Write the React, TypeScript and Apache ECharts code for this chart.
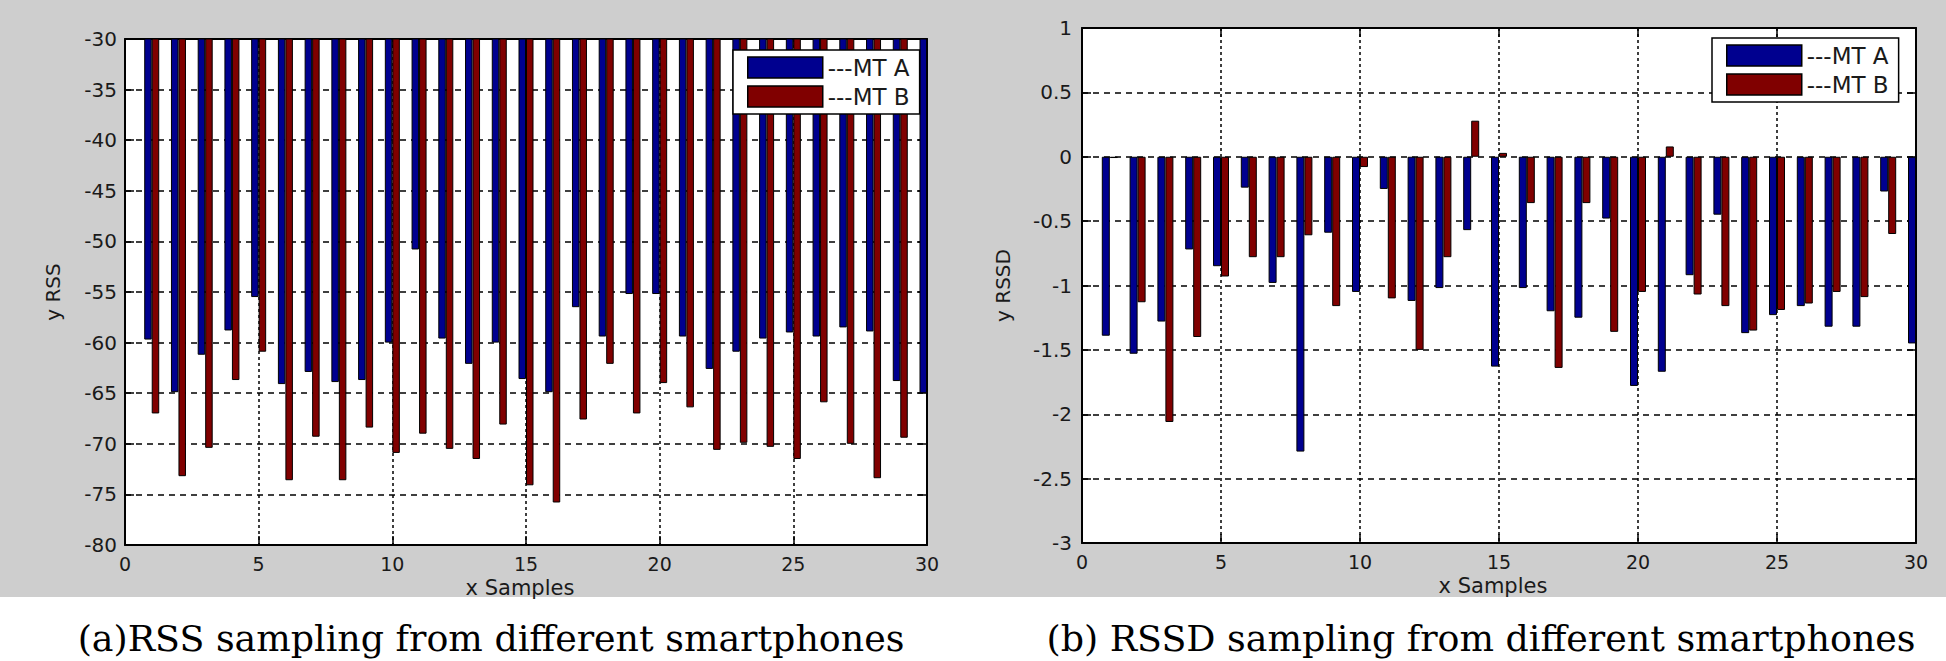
import React, { useEffect, useRef } from "react";
import * as echarts from "echarts";

// ---------- data ----------
const samples = [1, 2, 3, 4, 5, 6, 7, 8, 9, 10, 11, 12, 13, 14, 15, 16, 17, 18, 19, 20, 21, 22, 23, 24, 25, 26, 27, 28, 29, 30];

const seriesNames = ["---MT A", "---MT B"];

// (a) RSS
const rssMtA = [-59.7, -64.9, -61.2, -58.8, -55.5, -64.1, -62.9, -63.9, -63.7, -60.0, -50.8, -59.6, -62.1, -60.0, -63.6, -64.9, -56.5, -59.4, -55.2, -55.2, -59.4, -62.6, -60.9, -59.6, -59.0, -59.4, -58.5, -58.9, -63.8, -65.0];
const rssMtB = [-67.0, -73.2, -70.4, -63.7, -60.9, -73.6, -69.3, -73.6, -68.4, -70.9, -69.0, -70.5, -71.5, -68.1, -74.1, -75.8, -67.6, -62.1, -67.0, -64.0, -66.4, -70.6, -69.9, -70.3, -71.5, -65.9, -70.0, -73.4, -69.4, null];

// (b) RSSD
const rssdMtA = [-1.39, -1.53, -1.28, -0.72, -0.85, -0.24, -0.98, -2.29, -0.59, -1.05, -0.25, -1.12, -1.02, -0.57, -1.63, -1.02, -1.2, -1.25, -0.48, -1.78, -1.67, -0.92, -0.45, -1.37, -1.23, -1.16, -1.32, -1.32, -0.27, -1.45];
const rssdMtB = [-0.01, -1.13, -2.06, -1.4, -0.93, -0.78, -0.78, -0.61, -1.16, -0.08, -1.1, -1.5, -0.78, 0.28, 0.03, -0.36, -1.64, -0.36, -1.36, -1.05, 0.08, -1.07, -1.16, -1.35, -1.19, -1.14, -1.05, -1.09, -0.6, null];

const captionA = "(a)RSS sampling from different smartphones";
const captionB = "(b) RSSD sampling from different smartphones";

// ---------- styling ----------
const SANS = "'DejaVu Sans', sans-serif";
const SERIF = "'DejaVu Serif', serif";
const LABEL = "#1a1a1a";
const BLUE = "#00008F";
const RED = "#800000";

function xAxesFor(gridIndex: number, nameGap: number) {
  return [
    {
      type: "value",
      gridIndex,
      min: 0,
      max: 30,
      interval: 5,
      name: "x Samples",
      nameLocation: "middle",
      nameGap,
      nameTextStyle: { fontFamily: SANS, fontSize: 21, color: LABEL, padding: [0, 12, 0, 0] },
      axisLine: { show: true, onZero: false, lineStyle: { color: "#000", width: 2 } },
      axisTick: { show: true, inside: true, length: 9, lineStyle: { color: "#000", width: 1.5 } },
      axisLabel: { fontFamily: SANS, fontSize: 19, color: LABEL, margin: 9 },
      splitLine: { show: true, lineStyle: { color: "#000", type: [3, 3], width: 1.5 } },
    },
    {
      type: "value",
      gridIndex,
      position: "top",
      min: 0,
      max: 30,
      interval: 5,
      axisLine: { show: true, onZero: false, lineStyle: { color: "#000", width: 2 } },
      axisTick: { show: true, inside: true, length: 9, lineStyle: { color: "#000", width: 1.5 } },
      axisLabel: { show: false },
      splitLine: { show: false },
    },
  ];
}

function yAxesFor(gridIndex: number, min: number, max: number, interval: number, name: string, nameGap: number, margin: number) {
  return [
    {
      type: "value",
      gridIndex,
      min,
      max,
      interval,
      name,
      nameLocation: "middle",
      nameRotate: 90,
      nameGap,
      nameTextStyle: { fontFamily: SANS, fontSize: 20, color: LABEL },
      axisLine: { show: true, onZero: false, lineStyle: { color: "#000", width: 2 } },
      axisTick: { show: true, inside: true, length: 9, lineStyle: { color: "#000", width: 1.5 } },
      axisLabel: { fontFamily: SANS, fontSize: 20, color: LABEL, margin },
      splitLine: { show: true, lineStyle: { color: "#000", type: [6, 5], width: 1.5 } },
    },
    {
      type: "value",
      gridIndex,
      position: "right",
      min,
      max,
      interval,
      axisLine: { show: true, onZero: false, lineStyle: { color: "#000", width: 2 } },
      axisTick: { show: true, inside: true, length: 9, lineStyle: { color: "#000", width: 1.5 } },
      axisLabel: { show: false },
      splitLine: { show: false },
    },
  ];
}

function legendAt(left: number, top: number) {
  return {
    left,
    top,
    orient: "vertical",
    selectedMode: false,
    backgroundColor: "#fff",
    borderColor: "#000",
    borderWidth: 1.5,
    borderRadius: 0,
    padding: [6, 10, 6, 14],
    itemGap: 6,
    itemWidth: 75,
    itemHeight: 21,
    icon: "rect",
    itemStyle: { borderColor: "#000", borderWidth: 1.5 },
    textStyle: { fontFamily: SANS, fontSize: 23, color: LABEL },
    data: seriesNames,
  };
}

function barSeries(name: string, values: (number | null)[], color: string, xi: number, yi: number, width: number) {
  return {
    type: "bar",
    name,
    xAxisIndex: xi,
    yAxisIndex: yi,
    barWidth: width,
    barGap: "0%",
    clip: true,
    itemStyle: { color, borderColor: "#000", borderWidth: 1 },
    data: samples.map((s, i) => [s, values[i]]),
  };
}

function caption(text: string, x: number) {
  return {
    type: "text",
    x,
    y: 639,
    scaleX: 1.04,
    style: {
      text,
      font: `35px ${SERIF}`,
      fill: "#000",
      align: "center",
      verticalAlign: "middle",
      textAlign: "center",
      textVerticalAlign: "middle",
    },
  };
}

export default function App() {
  const ref = useRef<HTMLDivElement>(null);

  useEffect(() => {
    if (!ref.current) return;
    const chart = echarts.init(ref.current, undefined, { renderer: "svg" });
    chart.setOption({
      animation: false,
      grid: [
        { left: 125, top: 39, width: 802, height: 506, show: true, backgroundColor: "#fff", borderWidth: 0 },
        { left: 1082, top: 28, width: 834, height: 515, show: true, backgroundColor: "#fff", borderWidth: 0 },
      ],
      xAxis: [...xAxesFor(0, 30), ...xAxesFor(1, 32)],
      yAxis: [
        ...yAxesFor(0, -80, -30, 5, "y RSS", 62, 8),
        ...yAxesFor(1, -3, 1, 0.5, "y RSSD", 69, 10),
      ],
      legend: [legendAt(733, 50), legendAt(1712, 38)],
      series: [
        barSeries(seriesNames[0], rssMtA, BLUE, 0, 0, 7.5),
        barSeries(seriesNames[1], rssMtB, RED, 0, 0, 7.5),
        barSeries(seriesNames[0], rssdMtA, BLUE, 2, 2, 8),
        barSeries(seriesNames[1], rssdMtB, RED, 2, 2, 8),
      ],
      graphic: [caption(captionA, 491), caption(captionB, 1481)],
    });
    return () => chart.dispose();
  }, []);

  return (
    <div
      ref={ref}
      style={{
        position: "absolute",
        left: 0,
        top: 0,
        width: 1946,
        height: 661,
        background: "linear-gradient(to bottom, #cecece 0px, #cecece 597px, #ffffff 597px)",
      }}
    />
  );
}
